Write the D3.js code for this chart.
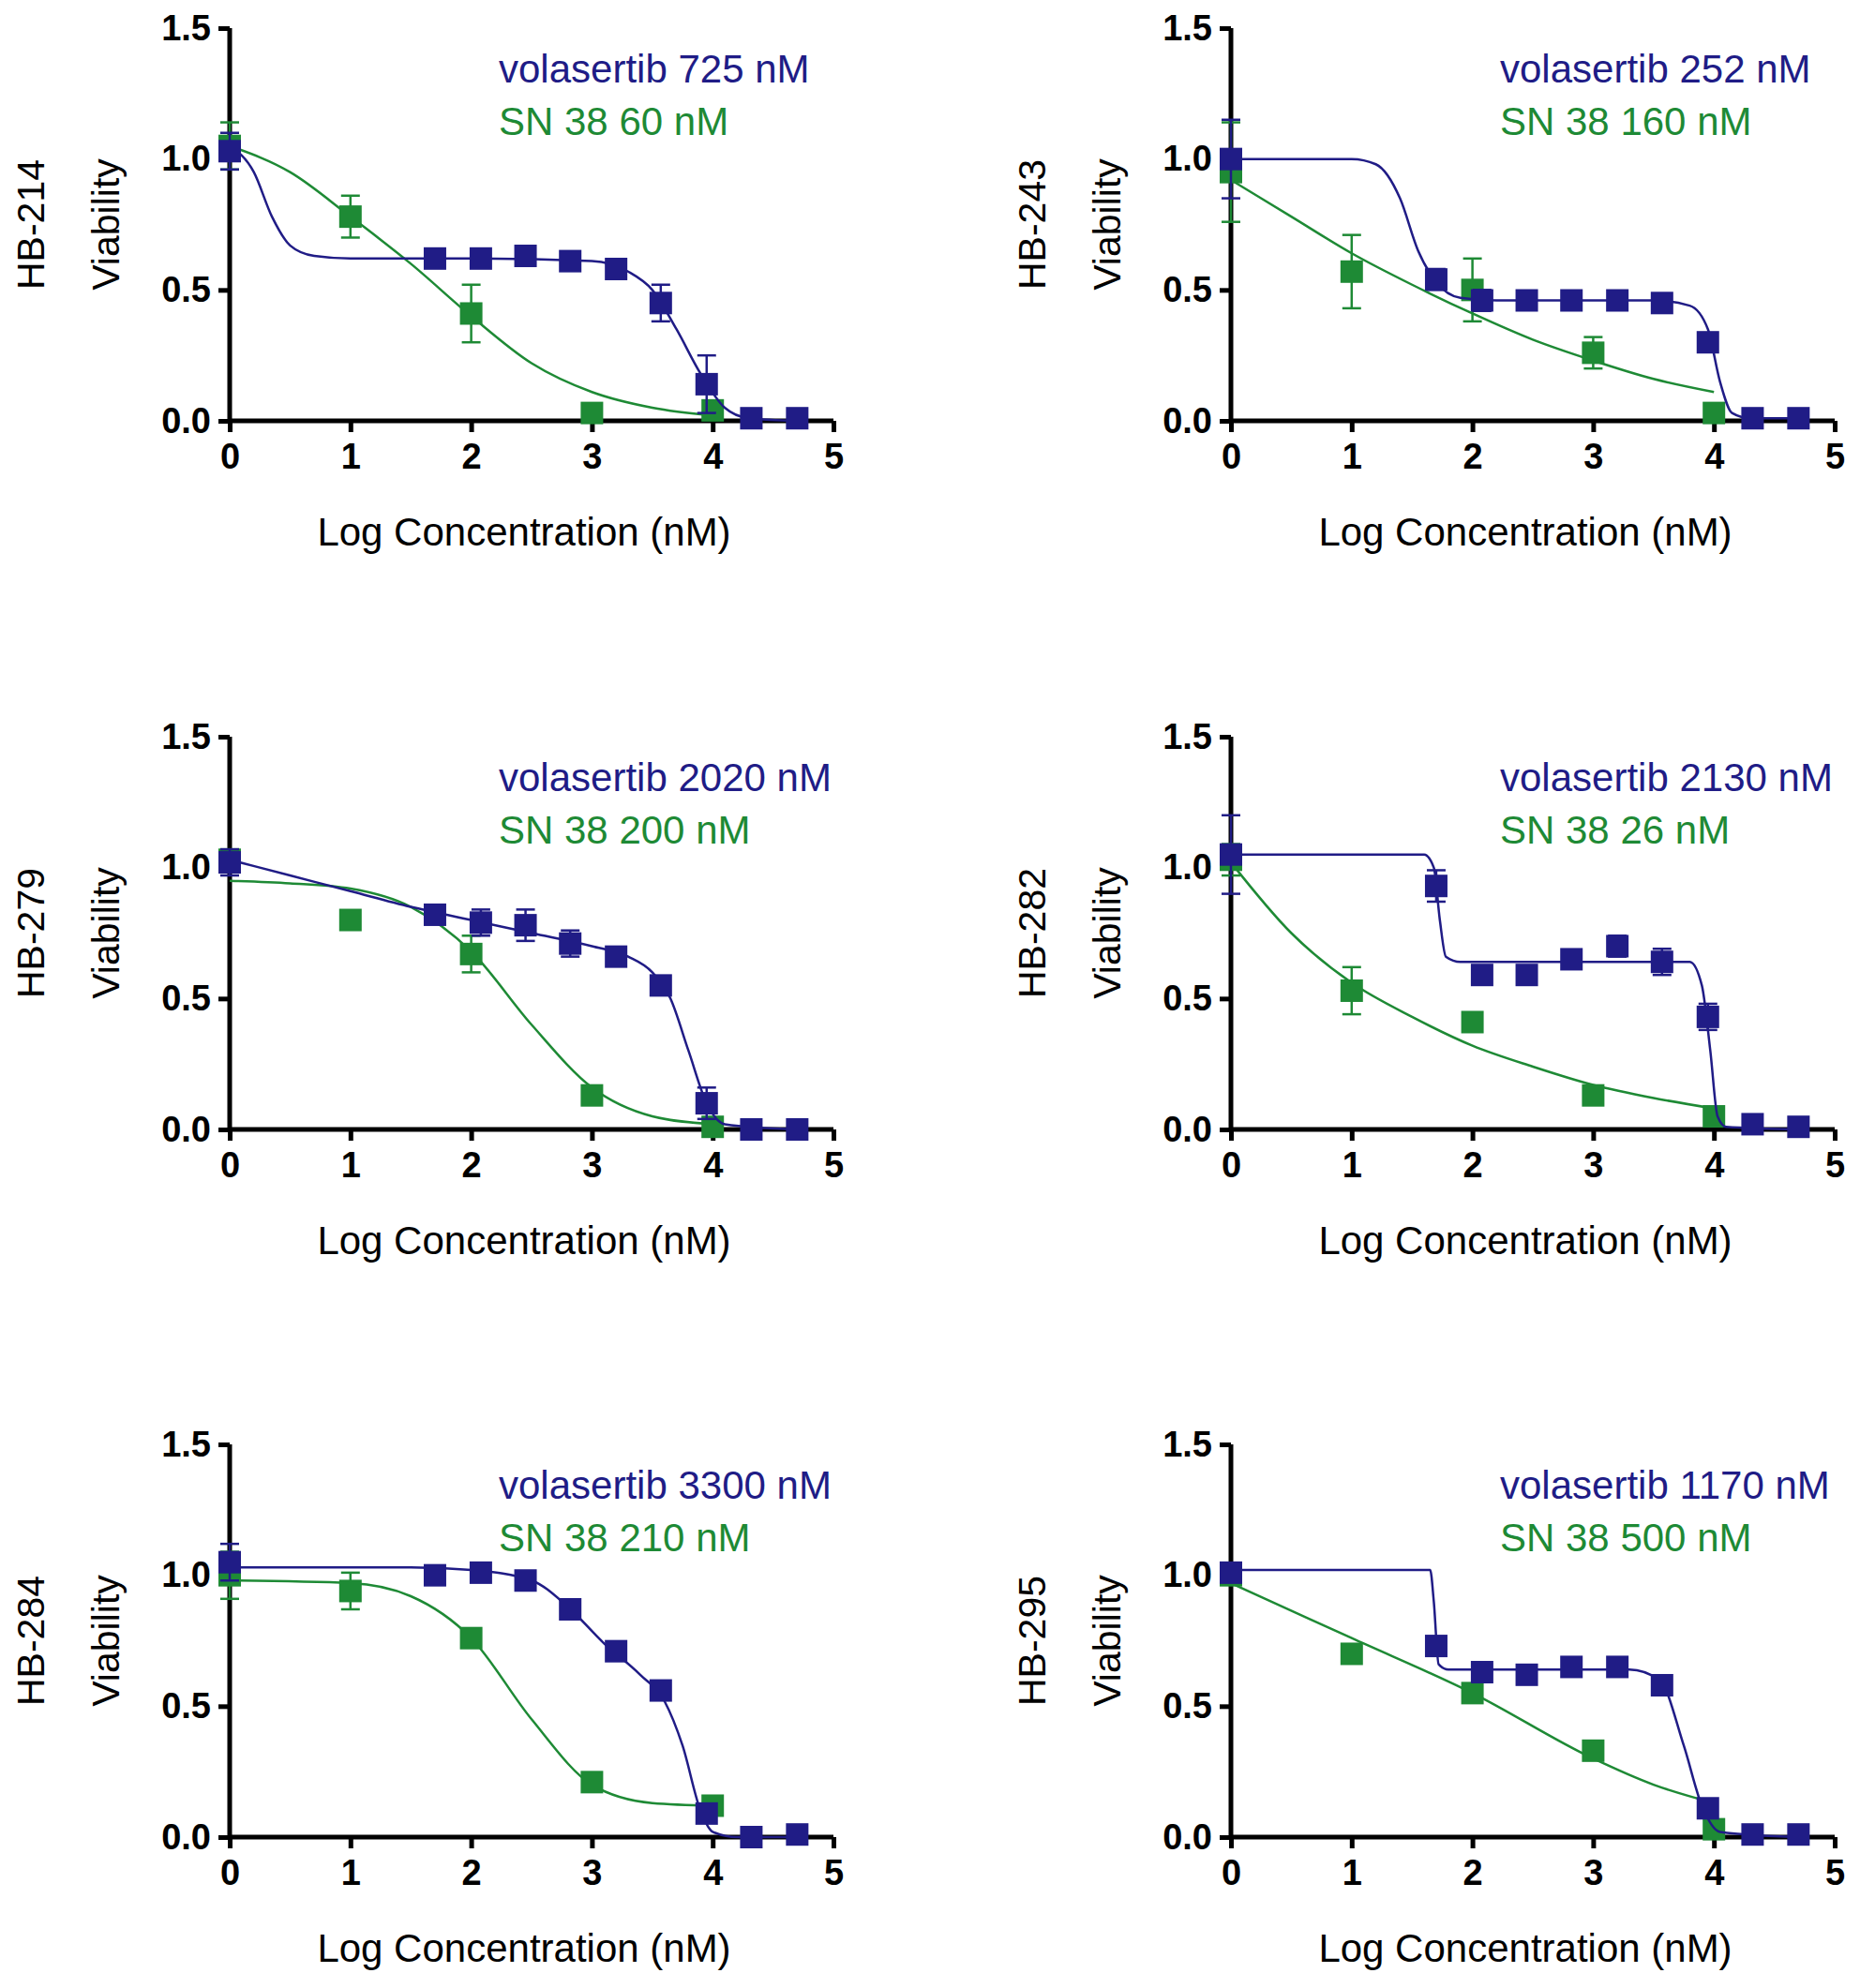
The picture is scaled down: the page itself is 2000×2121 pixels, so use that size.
<!DOCTYPE html>
<html><head><meta charset="utf-8">
<script src="https://cdn.jsdelivr.net/npm/d3@7"></script>
<style>body{margin:0;background:#fff}svg{font-family:"Liberation Sans",Arial,sans-serif}</style>
</head><body><div id="chart"></div>
<script>
const cells = ['HB-214', 'HB-243', 'HB-279', 'HB-282', 'HB-284', 'HB-295'];
const volaLabels = ['volasertib 725 nM', 'volasertib 252 nM', 'volasertib 2020 nM', 'volasertib 2130 nM', 'volasertib 3300 nM', 'volasertib 1170 nM'];
const snLabels = ['SN 38 60 nM', 'SN 38 160 nM', 'SN 38 200 nM', 'SN 38 26 nM', 'SN 38 210 nM', 'SN 38 500 nM'];
const xTicks = [0, 1, 2, 3, 4, 5];
const yTicks = [0, 0.5, 1.0, 1.5];

// points: [logConc, viability, sem]
const volaPoints = [
  [[0,1.03,0.07],[1.7,0.62,0],[2.08,0.62,0],[2.45,0.63,0],[2.82,0.61,0],[3.2,0.58,0],[3.57,0.45,0.07],[3.95,0.14,0.11],[4.32,0.01,0],[4.7,0.01,0]],
  [[0,1.0,0.15],[1.7,0.54,0.04],[2.08,0.46,0.04],[2.45,0.46,0],[2.82,0.46,0],[3.2,0.46,0],[3.57,0.45,0],[3.95,0.30,0],[4.32,0.01,0],[4.7,0.01,0]],
  [[0,1.02,0.05],[1.7,0.82,0],[2.08,0.79,0.05],[2.45,0.78,0.06],[2.82,0.71,0.05],[3.2,0.66,0],[3.57,0.55,0],[3.95,0.10,0.06],[4.32,0.0,0],[4.7,0.0,0]],
  [[0,1.05,0.15],[1.7,0.93,0.06],[2.08,0.59,0],[2.45,0.59,0],[2.82,0.65,0],[3.2,0.70,0.04],[3.57,0.64,0.05],[3.95,0.43,0.05],[4.32,0.02,0],[4.7,0.01,0]],
  [[0,1.05,0.07],[1.7,1.0,0],[2.08,1.01,0],[2.45,0.98,0],[2.82,0.87,0],[3.2,0.71,0],[3.57,0.56,0],[3.95,0.09,0],[4.32,0.0,0],[4.7,0.01,0]],
  [[0,1.01,0],[1.7,0.73,0],[2.08,0.63,0],[2.45,0.62,0],[2.82,0.65,0],[3.2,0.65,0],[3.57,0.58,0],[3.95,0.11,0.03],[4.32,0.01,0],[4.7,0.01,0]]
];
const snPoints = [
  [[0,1.05,0.09],[1,0.78,0.08],[2,0.41,0.11],[3,0.03,0],[4,0.04,0]],
  [[0,0.95,0.19],[1,0.57,0.14],[2,0.50,0.12],[3,0.26,0.06],[4,0.03,0]],
  [[0,1.03,0.04],[1,0.80,0.03],[2,0.67,0.07],[3,0.13,0],[4,0.01,0]],
  [[0,1.03,0.06],[1,0.53,0.09],[2,0.41,0],[3,0.13,0],[4,0.05,0]],
  [[0,1.0,0.09],[1,0.94,0.07],[2,0.76,0],[3,0.21,0],[4,0.12,0]],
  [[0,1.0,0],[1,0.70,0],[2,0.55,0],[3,0.33,0],[4,0.03,0]]
];
// fitted curves
const volaCurves = [
  [[0,1.05],[0.2,0.95],[0.35,0.78],[0.5,0.67],[0.7,0.63],[1,0.62],[2,0.62],[3,0.61],[3.3,0.57],[3.5,0.5],[3.7,0.35],[3.9,0.18],[4.1,0.05],[4.3,0.01],[4.7,0.0]],
  [[0,1.0],[1,1.0],[1.2,0.98],[1.4,0.85],[1.55,0.65],[1.7,0.53],[1.9,0.47],[2.2,0.46],[3.5,0.46],[3.8,0.44],[3.95,0.35],[4.05,0.15],[4.15,0.03],[4.3,0.01],[4.7,0.01]],
  [[0,1.03],[0.5,0.97],[1,0.91],[1.5,0.85],[2,0.8],[2.5,0.75],[3,0.7],[3.3,0.66],[3.5,0.6],[3.65,0.5],[3.8,0.3],[3.95,0.1],[4.1,0.02],[4.7,0.0]],
  [[0,1.05],[1.6,1.05],[1.68,1.0],[1.73,0.8],[1.78,0.66],[1.9,0.64],[3.8,0.64],[3.9,0.55],[3.97,0.3],[4.03,0.05],[4.1,0.01],[4.7,0.0]],
  [[0,1.03],[1.5,1.03],[2,1.02],[2.5,0.98],[2.8,0.88],[3.1,0.74],[3.4,0.62],[3.6,0.52],[3.75,0.35],[3.9,0.1],[4.0,0.02],[4.2,0.0],[4.7,0.0]],
  [[0,1.02],[1.65,1.02],[1.68,0.9],[1.72,0.66],[1.8,0.64],[3.3,0.64],[3.55,0.6],[3.75,0.35],[3.9,0.12],[4.05,0.02],[4.7,0.0]]
];
const snCurves = [
  [[0,1.05],[0.5,0.95],[1,0.78],[1.5,0.6],[2,0.4],[2.5,0.22],[3,0.11],[3.5,0.05],[4,0.02]],
  [[0,0.92],[0.5,0.78],[1,0.64],[1.5,0.52],[2,0.41],[2.5,0.31],[3,0.23],[3.5,0.16],[4,0.11]],
  [[0,0.95],[0.5,0.94],[1,0.92],[1.5,0.85],[2,0.68],[2.5,0.4],[3,0.16],[3.5,0.05],[4,0.02]],
  [[0,1.02],[0.5,0.75],[1,0.56],[1.5,0.43],[2,0.32],[2.5,0.24],[3,0.17],[3.5,0.12],[4,0.08]],
  [[0,0.98],[1,0.97],[1.5,0.92],[2,0.76],[2.5,0.45],[3,0.2],[3.5,0.13],[4,0.12]],
  [[0,0.97],[1,0.76],[2,0.55],[3,0.3],[3.5,0.2],[4,0.13]]
];

const BLUE = '#201c86';
const GREEN = '#1e8a35';
const colX = [245, 1313];
const rowY = [30, 786, 1541];
const width = 644;
const height = 419;

const svg = d3.select('#chart').append('svg').attr('width', 2000).attr('height', 2121);

cells.forEach((cell, i) => {
  const g = svg.append('g').attr('transform', `translate(${colX[i % 2]},${rowY[Math.floor(i / 2)]})`);
  const x = d3.scaleLinear().domain([0, 5]).range([0, width]);
  const y = d3.scaleLinear().domain([0, 1.5]).range([height, 0]);

  const xAxis = g.append('g').attr('transform', `translate(0,${height})`)
    .call(d3.axisBottom(x).tickValues(xTicks).tickFormat(d3.format('d')).tickSize(12).tickPadding(12));
  const yAxis = g.append('g')
    .call(d3.axisLeft(y).tickValues(yTicks).tickFormat(d3.format('.1f')).tickSize(12).tickPadding(8));
  [xAxis, yAxis].forEach((a) => {
    a.selectAll('path,line').attr('stroke', '#000').attr('stroke-width', 5);
    a.select('.domain').attr('d', a === xAxis ? `M0,0H${width}` : `M0,${height}V0`);
    a.selectAll('text').attr('fill', '#000').style('font-size', '38px').style('font-weight', 'bold');
  });

  g.append('text').attr('x', width / 2 - 8).attr('y', height + 133).attr('text-anchor', 'middle')
    .style('font-size', '42px').text('Log Concentration (nM)');
  g.append('text').attr('transform', `translate(-118,${height / 2}) rotate(-90)`).attr('text-anchor', 'middle')
    .style('font-size', '41px').text('Viability');
  g.append('text').attr('transform', `translate(-198,${height / 2}) rotate(-90)`).attr('text-anchor', 'middle')
    .style('font-size', '41px').text(cell);

  g.append('text').attr('x', 287).attr('y', 58).attr('fill', BLUE).style('font-size', '42px').text(volaLabels[i]);
  g.append('text').attr('x', 287).attr('y', 114).attr('fill', GREEN).style('font-size', '42px').text(snLabels[i]);

  const line = d3.line().x((d) => x(d[0])).y((d) => y(d[1])).curve(d3.curveMonotoneX);

  [[snCurves[i], snPoints[i], GREEN], [volaCurves[i], volaPoints[i], BLUE]].forEach(([curve, pts, col]) => {
    g.append('path').datum(curve).attr('d', line).attr('fill', 'none').attr('stroke', col).attr('stroke-width', 2.5);
    const err = g.append('g').attr('stroke', col).attr('stroke-width', 2.5);
    pts.filter((d) => d[2] > 0).forEach((d) => {
      err.append('line').attr('x1', x(d[0])).attr('x2', x(d[0])).attr('y1', y(d[1] - d[2])).attr('y2', y(d[1] + d[2]));
      [d[1] - d[2], d[1] + d[2]].forEach((v) => {
        err.append('line').attr('x1', x(d[0]) - 10).attr('x2', x(d[0]) + 10).attr('y1', y(v)).attr('y2', y(v));
      });
    });
    g.append('g').selectAll('rect').data(pts).join('rect')
      .attr('x', (d) => x(d[0]) - 12).attr('y', (d) => y(d[1]) - 12)
      .attr('width', 24).attr('height', 24).attr('fill', col);
  });
});
</script></body></html>
